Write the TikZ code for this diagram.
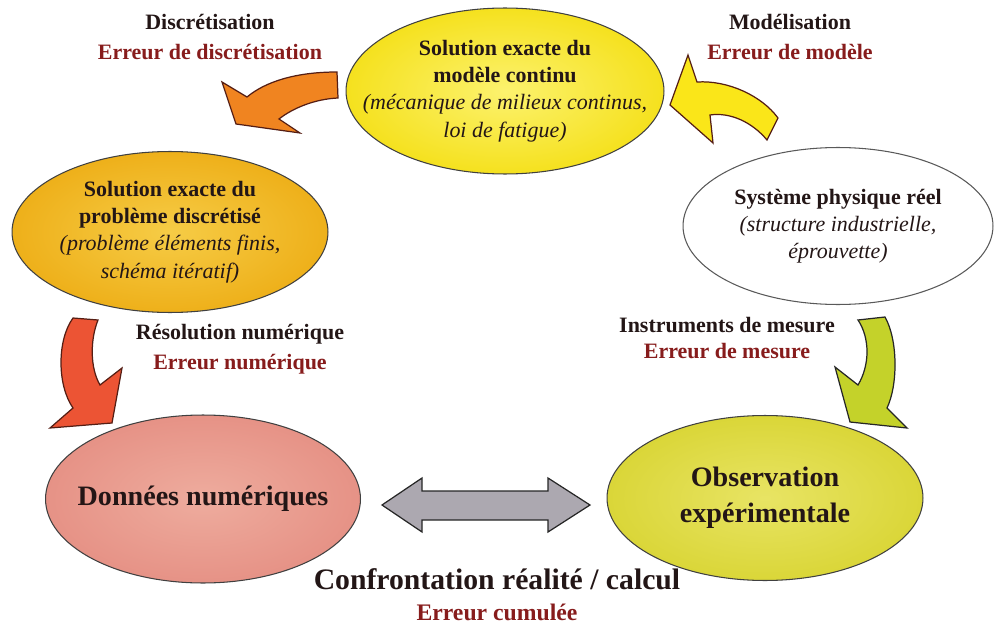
\documentclass[tikz,border=0pt]{standalone}
\usepackage{fontspec}
\setmainfont{Liberation Serif}
\usetikzlibrary{shapes.geometric, positioning}

\definecolor{errred}{RGB}{135,28,28}
\definecolor{inkdark}{RGB}{35,22,22}
\definecolor{arrline}{RGB}{85,30,20}
\definecolor{arrorange}{RGB}{240,132,32}
\definecolor{arryellow}{RGB}{250,230,25}
\definecolor{arrred}{RGB}{236,84,52}
\definecolor{arrgreen}{RGB}{196,210,42}
\definecolor{arrgrey}{RGB}{172,168,176}

\newcommand{\detailtext}[1]{{\mdseries\itshape #1}}

\tikzstyle{bubble} = [
    ellipse,
    draw=black!75,
    line width=0.6pt,
    inner xsep=-3cm,
    inner ysep=-1.5cm,
    align=center,
    text=inkdark,
    font=\fontsize{12.5}{15.5}\selectfont\bfseries
]
\tikzstyle{steplabel} = [
    align=center,
    text=inkdark,
    font=\fontsize{12.5}{17}\selectfont\bfseries
]
\tikzstyle{blockarrow} = [
    line width=0.7pt,
    draw=arrline,
    line join=miter
]

\begin{document}
\begin{tikzpicture}[x=0.02cm, y=-0.02cm]

\useasboundingbox (0,0) rectangle (994,625);

% the five states
\node (continu) [bubble, shade, inner color={rgb,255:red,252;green,242;blue,110}, outer color={rgb,255:red,245;green,225;blue,30},
    minimum width=6.36cm, minimum height=3.32cm] at (505,91)
    {Solution exacte du\\modèle continu\\\detailtext{(mécanique de milieux continus,}\\\detailtext{loi de fatigue)}};
\node (discret) [bubble, shade, inner color={rgb,255:red,246;green,204;blue,70}, outer color={rgb,255:red,238;green,176;blue,26},
    minimum width=6.32cm, minimum height=3.22cm] at (170,232)
    {Solution exacte du\\problème discrétisé\\\detailtext{(problème éléments finis,}\\\detailtext{schéma itératif)}};
\node (systeme) [bubble, fill=white, draw=black!65,
    minimum width=6.2cm, minimum height=3.14cm] at (838,226)
    {Système physique réel\\\detailtext{(structure industrielle,}\\\detailtext{éprouvette)}};
\node (donnees) [bubble, shade, inner color={rgb,255:red,238;green,172;blue,158}, outer color={rgb,255:red,230;green,146;blue,134},
    minimum width=6.3cm, minimum height=3.36cm, font=\fontsize{16}{20}\selectfont\bfseries] at (203,499)
    {Données numériques};
\node (observ) [bubble, shade, inner color={rgb,255:red,232;green,228;blue,100}, outer color={rgb,255:red,218;green,214;blue,56},
    minimum width=6.32cm, minimum height=3.3cm, font=\fontsize{16}{20.5}\selectfont\bfseries] at (765,498)
    {Observation\\expérimentale};

% step labels
\node (lbldisc)  [steplabel] at (210,37)  {Discrétisation\\\textcolor{errred}{Erreur de discrétisation}};
\node (lblmodel) [steplabel] at (790,37)  {Modélisation\\\textcolor{errred}{Erreur de modèle}};
\node (lblreso)  [steplabel] at (240,349) {Résolution numérique\\\textcolor{errred}{Erreur numérique}};
\node (lblmes)   [steplabel, font=\fontsize{12.5}{15.3}\selectfont\bfseries] at (727,338) {Instruments de mesure\\\textcolor{errred}{Erreur de mesure}};
\node (lblconf)  [steplabel, font=\fontsize{16.9}{17.5}\selectfont\bfseries] at (497,595)
    {Confrontation réalité / calcul\\\textcolor{errred}{\fontsize{13.5}{15}\selectfont Erreur cumulée}};

% curved arrows
\filldraw[blockarrow, fill=arrorange] (337,72) -- (338,98)
    .. controls (315,99) and (293,108) .. (279,119) -- (300,133) -- (236,124) -- (222,82) -- (247,97)
    .. controls (265,82) and (295,72) .. (337,72) -- cycle;
\filldraw[blockarrow, fill=arryellow] (688,55) -- (697,82)
    .. controls (728,80) and (762,96) .. (778,118) -- (767,140)
    .. controls (752,122) and (730,112) .. (710,115) -- (713,143) -- (670,105) -- cycle;
\filldraw[blockarrow, fill=arrred] (73,318) -- (98,320)
    .. controls (90,340) and (90,368) .. (100,385) -- (122,368) -- (112,423) -- (50,428) -- (73,408)
    .. controls (57,385) and (57,340) .. (73,318) -- cycle;
\filldraw[blockarrow, fill=arrgreen, draw=black!85] (858,320) -- (885,317)
    .. controls (898,340) and (898,385) .. (887,408) -- (907,428) -- (850,422) -- (835,367) -- (858,385)
    .. controls (870,365) and (870,338) .. (858,320) -- cycle;

% double arrow between the two results
\filldraw[blockarrow, fill=arrgrey, draw=black!85] (382,505) -- (422,478) -- (422,491) -- (548,491) -- (548,478)
    -- (590,505) -- (548,532) -- (548,520) -- (422,520) -- (422,532) -- cycle;

\end{tikzpicture}
\end{document}
